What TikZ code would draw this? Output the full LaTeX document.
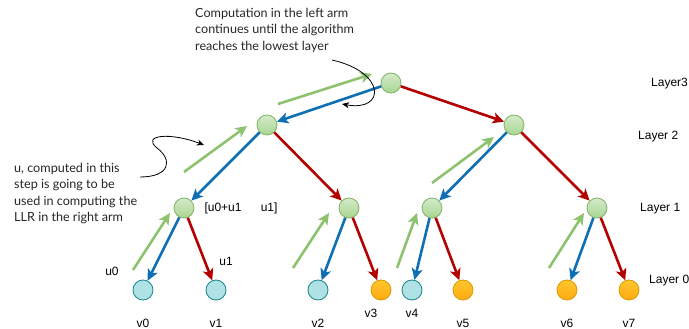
\documentclass[tikz,border=0pt]{standalone}
\usepackage{fontspec}
\setmainfont{Liberation Sans}
\newfontfamily\notefont{Lato}
\usetikzlibrary{arrows.meta}
\definecolor{gline}{HTML}{8DC26E}
\definecolor{bline}{HTML}{0E6FB5}
\definecolor{rline}{HTML}{B40000}
\definecolor{gborder}{HTML}{82B366}
\definecolor{gtop}{HTML}{D5EBCB}
\definecolor{gbot}{HTML}{A8D590}
\definecolor{cborder}{HTML}{17868D}
\definecolor{cfill}{HTML}{AEE2E4}
\definecolor{oborder}{HTML}{D89B00}
\definecolor{otop}{HTML}{FFC62E}
\definecolor{obot}{HTML}{FFAA10}
\tikzset{
  gnode/.style={circle, draw=gborder, line width=0.8pt, top color=gtop, bottom color=gbot, minimum size=20pt, inner sep=0pt},
  cnode/.style={circle, draw=cborder, line width=0.8pt, fill=cfill, minimum size=20pt, inner sep=0pt},
  onode/.style={circle, draw=oborder, line width=0.8pt, top color=otop, bottom color=obot, minimum size=20pt, inner sep=0pt},
  arr/.style={line width=2.6pt, -{Stealth[length=11.5pt,width=11pt,inset=3pt]}},
  barr/.style={arr, draw=bline},
  rarr/.style={arr, draw=rline},
  garr/.style={arr, draw=gline},
  note/.style={font=\notefont\fontsize{12.6}{16.3}\selectfont, align=left, inner sep=0pt, text=black!85},
  lbl/.style={font=\fontsize{12}{14}\selectfont, inner sep=0pt},
  curv/.style={line width=0.8pt, -{Stealth[length=7pt,width=6pt,inset=2pt]}}
}
\begin{document}
\begin{tikzpicture}[x=1pt,y=-1pt]
\useasboundingbox (0,0) rectangle (689,329);
\clip (0,0) rectangle (689,329);
% nodes
\node[gnode] (r) at (391,83) {};
\node[gnode] (a) at (267,125) {};
\node[gnode] (b) at (514,125) {};
\node[gnode] (c) at (184,208) {};
\node[gnode] (d) at (349,208) {};
\node[gnode] (e) at (432,208) {};
\node[gnode] (f) at (597,208) {};
\node[cnode] (v0) at (143,290) {};
\node[cnode] (v1) at (216,290) {};
\node[cnode] (v2) at (318,290) {};
\node[onode] (v3) at (381,290) {};
\node[cnode] (v4) at (412,290) {};
\node[onode] (v5) at (463,290) {};
\node[onode] (v6) at (567,290) {};
\node[onode] (v7) at (629,290) {};
% tree edges
\draw[barr] (r) -- (a);
\draw[rarr] (r) -- (b);
\draw[barr] (a) -- (c);
\draw[rarr] (a) -- (d);
\draw[barr] (b) -- (e);
\draw[rarr] (b) -- (f);
\draw[barr] (c) -- (v0);
\draw[rarr] (c) -- (v1);
\draw[barr] (d) -- (v2);
\draw[rarr] (d) -- (v3);
\draw[barr] (e) -- (v4);
\draw[rarr] (e) -- (v5);
\draw[barr] (f) -- (v6);
\draw[rarr] (f) -- (v7);
% green arrows
\coordinate (g1s) at (278,104); \coordinate (g1e) at (372,74);
\coordinate (g2s) at (184,172); \coordinate (g2e) at (247,126);
\coordinate (g3s) at (432,183); \coordinate (g3e) at (494,137);
\coordinate (g4s) at (133,270); \coordinate (g4e) at (170,213);
\coordinate (g5s) at (293,268); \coordinate (g5e) at (329,213);
\coordinate (g6s) at (397,268); \coordinate (g6e) at (417,213);
\coordinate (g7s) at (549,268); \coordinate (g7e) at (584,213);
\foreach \i in {1,...,7} \draw[garr] (g\i s) -- (g\i e);
% notes
\node[note, anchor=north west] (n1) at (195,8) {Computation in the left arm\\continues until the algorithm\\reaches the lowest layer};
\node[note, anchor=north west] (n2) at (14,163) {u, computed in this\\step is going to be\\used in computing the\\LLR in the right arm};
\coordinate (t1) at (342,104);
\coordinate (t2) at (204,145);
\coordinate (s1) at (332,60);
\coordinate (s2) at (140,177);
\draw[curv] (s1) .. controls (386,72) and (386,112) .. (t1);
\draw[curv] (s2) .. controls (170,177) and (173,160) .. (157,148) .. controls (141,135) and (170,132) .. (t2);
% labels
\node[lbl] (lu) at (241,208) {[u0+u1\hspace{1.6em}u1]};
\node[lbl] (lu0) at (112,271) {u0};
\node[lbl] (lu1) at (226,261) {u1};
\node[lbl] (l0) at (143,323) {v0};
\node[lbl] (l1) at (216,323) {v1};
\node[lbl] (l2) at (318,323) {v2};
\node[lbl] (l3) at (371,313) {v3};
\node[lbl] (l4) at (412,313) {v4};
\node[lbl] (l5) at (463,323) {v5};
\node[lbl] (l6) at (567,323) {v6};
\node[lbl] (l7) at (629,323) {v7};
\node[lbl, anchor=west] (L3) at (651,84) {Layer3};
\node[lbl, anchor=west] (L2) at (638,137) {Layer 2};
\node[lbl, anchor=west] (L1) at (640,209) {Layer 1};
\node[lbl, anchor=west] (L0) at (649,281) {Layer 0};
\end{tikzpicture}
\end{document}
